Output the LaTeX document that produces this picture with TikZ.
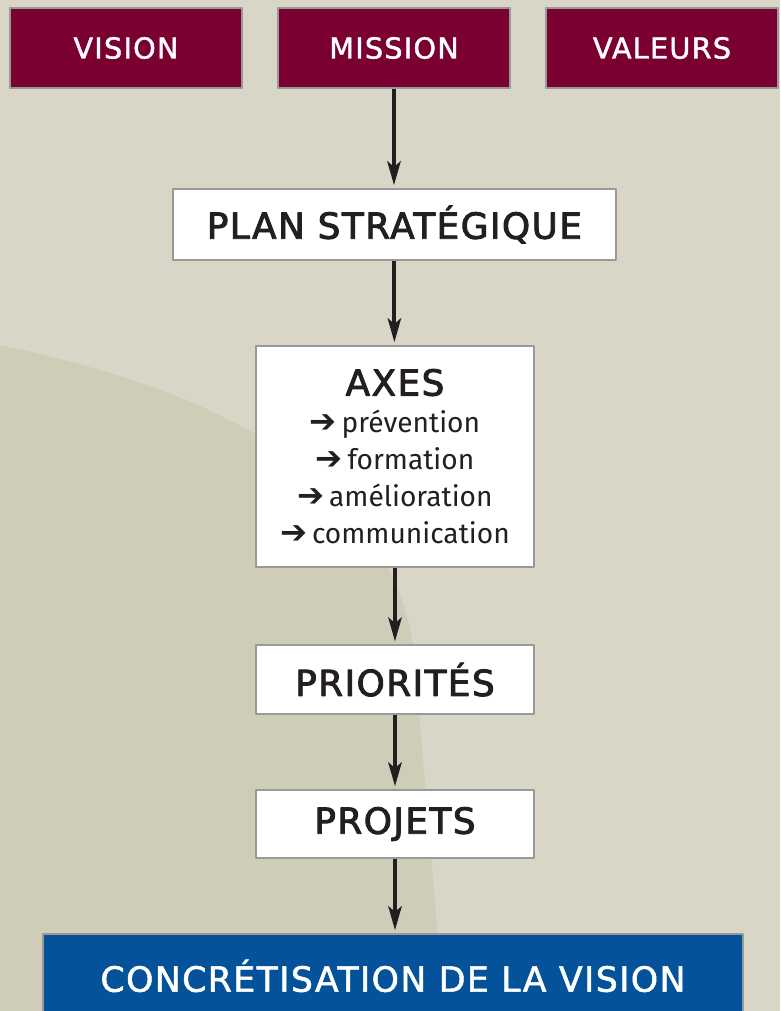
\documentclass[tikz,border=0pt]{standalone}
\usepackage{fontspec}
\setmainfont{Fira Sans}
\newfontfamily\headfont{DejaVu Sans}[FakeBold=2.5,LetterSpace=4]
\newfontfamily\capfont{DejaVu Sans}[FakeBold=1.5,LetterSpace=4]
\newfontfamily\symfont{DejaVu Sans}
\usetikzlibrary{arrows.meta}
\definecolor{fond}{HTML}{D9D6C7}
\definecolor{fondsombre}{HTML}{CFCCB8}
\definecolor{bordeaux}{HTML}{7A0032}
\definecolor{bleu}{HTML}{04539A}
\definecolor{grisbord}{HTML}{999999}
\definecolor{encre}{HTML}{231F20}
\newcommand{\axe}[1]{{\symfont\fontsize{23}{26.3}\selectfont\char"2794}\,#1}
\begin{document}
\begin{tikzpicture}[>={Stealth[length=17pt,width=9.5pt,inset=4pt]},line join=round,
	cadre/.style={draw=grisbord,line width=1.2pt,inner sep=0pt,align=center},
	haut/.style={cadre,fill=bordeaux,text=white,minimum width=5.8cm,minimum height=2cm,font=\capfont\fontsize{20.5}{24}\selectfont},
	etape/.style={cadre,fill=white,text=encre,minimum width=6.95cm,font=\headfont\fontsize{25.5}{30}\selectfont},
	fleche/.style={->,line width=2.8pt,draw=encre,shorten >=2pt}]
			% fond
			\fill[fond] (0,0) rectangle (19.5,-25.275);
			\fill[fondsombre] (0,-8.625) .. controls (6.5,-10) and (10.4,-12.5) .. (10.45,-17.5) -- (11.1,-25.275) -- (0,-25.275) -- cycle;
			\useasboundingbox (0,0) rectangle (19.5,-25.275);
			% cases du haut
			\node[haut] (vision) at (3.15,-1.2) {VISION};
			\node[haut] (mission) at (9.85,-1.2) {MISSION};
			\node[haut] (valeurs) at (16.55,-1.2) {VALEURS};
			% etapes
			\node[etape,minimum width=11.075cm,minimum height=1.775cm] (plan) at (9.86,-5.61) {PLAN STRATÉGIQUE};
			\node[etape,minimum height=5.525cm,font=\fontsize{20}{26.3}\selectfont] (axes) at (9.875,-11.41)
				{{\headfont\fontsize{25.5}{26.3}\selectfont AXES}\\\axe{prévention}\\\axe{formation}\\\axe{amélioration}\\\axe{communication}};
			\node[etape,minimum height=1.725cm] (priorites) at (9.875,-16.99) {PRIORITÉS};
			\node[etape,minimum height=1.7cm] (projets) at (9.875,-20.6) {PROJETS};
			\node[cadre,fill=bleu,text=white,minimum width=17.5cm,minimum height=2.1cm,anchor=north,
				font=\capfont\fontsize{24.7}{30}\selectfont] (concret) at (9.825,-23.325) {CONCRÉTISATION DE LA VISION};
			% fleches
			\foreach \a/\b in {mission/plan,plan/axes,axes/priorites,priorites/projets,projets/concret}
				\draw[fleche] (\a.south) -- (\a.south |- \b.north);
		\end{tikzpicture}
\end{document}
